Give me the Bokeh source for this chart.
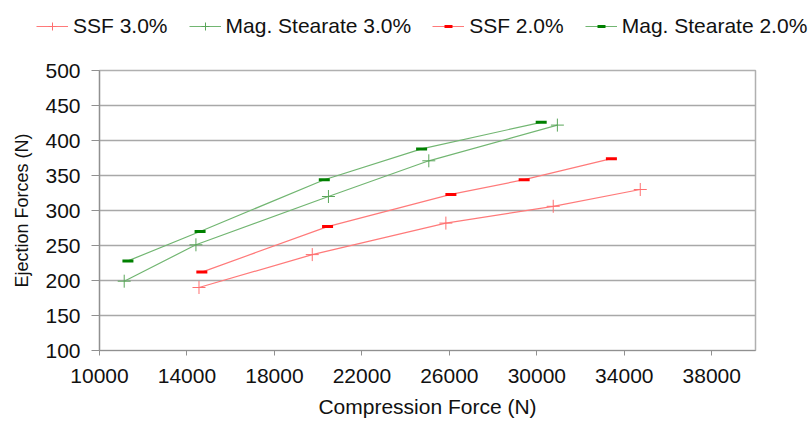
from bokeh.plotting import figure
from bokeh.layouts import column
from bokeh.models import Legend, LegendItem, FixedTicker, Range1d
from bokeh.embed import file_html
from bokeh.resources import INLINE

# Data
ssf3_x = [14550, 19730, 25840, 30750, 34730]
ssf3_y = [190, 237, 282, 306, 330]
mag3_x = [11130, 14410, 20470, 25060, 30940]
mag3_y = [199, 251, 320, 371, 422]
ssf2_x = [14680, 20430, 26070, 29420, 33410]
ssf2_y = [212, 277, 323, 344, 374]
mag2_x = [11300, 14600, 20280, 24730, 30200]
mag2_y = [228, 270, 344, 388, 426]

series_labels = ["SSF 3.0%", "Mag. Stearate 3.0%", "SSF 2.0%", "Mag. Stearate 2.0%"]
x_ticks = [10000, 14000, 18000, 22000, 26000, 30000, 34000, 38000]
y_ticks = [100, 150, 200, 250, 300, 350, 400, 450, 500]

FONT = "Liberation Sans"
red_line = "#ff7a7a"
green_line = "#72b672"

styles = [
    dict(line=red_line, marker="cross", size=13, mcolor="#ff7070", mwidth=1),
    dict(line=green_line, marker="cross", size=13, mcolor="#5aa65a", mwidth=1),
    dict(line=red_line, marker="dash", size=11, mcolor="#ff0000", mwidth=3),
    dict(line=green_line, marker="dash", size=11, mcolor="#008000", mwidth=3),
]
series = [(ssf3_x, ssf3_y), (mag3_x, mag3_y), (ssf2_x, ssf2_y), (mag2_x, mag2_y)]

# Main plot
p = figure(width=812, height=378, output_backend="svg", toolbar_location=None,
           x_range=Range1d(10000, 40000), y_range=Range1d(100, 500),
           min_border_left=99, min_border_right=57, min_border_top=24, min_border_bottom=74)
p.frame_align = False

for (xs, ys), st in zip(series, styles):
    p.line(xs, ys, line_color=st["line"], line_width=1.2)
    p.scatter(xs, ys, marker=st["marker"], size=st["size"], line_color=st["mcolor"],
              line_width=st["mwidth"])

p.xaxis.ticker = FixedTicker(ticks=x_ticks)
p.yaxis.ticker = FixedTicker(ticks=y_ticks)
p.xgrid.grid_line_color = None
p.ygrid.grid_line_color = "#a8a8a8"
p.ygrid.grid_line_width = 1.5
p.outline_line_color = "#b0b0b0"
p.outline_line_width = 1.5

for ax in (p.xaxis[0], p.yaxis[0]):
    ax.axis_line_color = "#909090"
    ax.axis_line_width = 1.2
    ax.major_tick_line_color = "#909090"
    ax.major_tick_in = 0
    ax.minor_tick_line_color = None
    ax.major_label_text_font = FONT
    ax.major_label_text_font_size = "21px"
    ax.major_label_text_color = "#111111"
    ax.axis_label_text_font = FONT
    ax.axis_label_text_font_style = "normal"
    ax.axis_label_text_color = "#111111"

p.xaxis.major_tick_out = 5
p.yaxis.major_tick_out = 8
p.xaxis.major_label_standoff = 13
p.yaxis.major_label_standoff = 11
p.xaxis.axis_label = "Compression Force (N)"
p.yaxis.axis_label = "Ejection Forces (N)"
p.xaxis.axis_label_text_font_size = "21px"
p.yaxis.axis_label_text_font_size = "18px"
p.xaxis.axis_label_standoff = 9
p.yaxis.axis_label_standoff = 10

# Legend strip above the plot: same series drawn off-range, only the legend shows
lf = figure(width=812, height=46, output_backend="svg", toolbar_location=None,
            x_range=Range1d(0, 1), y_range=Range1d(0, 1),
            x_axis_location=None, y_axis_location=None, min_border=0)
lf.frame_align = False
lf.grid.grid_line_color = None
lf.outline_line_color = None

items = []
for label, (xs, ys), st in zip(series_labels, series, styles):
    lr = lf.line(xs, ys, line_color=st["line"], line_width=1.2)
    mr = lf.scatter(xs, ys, marker=st["marker"], size=st["size"], line_color=st["mcolor"],
                    line_width=st["mwidth"])
    items.append(LegendItem(label=label, renderers=[lr, mr]))

legend = Legend(items=items, orientation="horizontal", location=(36, 8), padding=0, margin=0,
                spacing=21, glyph_width=32, glyph_height=20, label_standoff=5,
                label_text_font=FONT, label_text_font_size="21px", label_text_color="#111111",
                border_line_color=None, background_fill_alpha=0)
lf.add_layout(legend, "center")

layout = column(lf, p, spacing=0)
open("out.html", "w").write(file_html(layout, INLINE))
